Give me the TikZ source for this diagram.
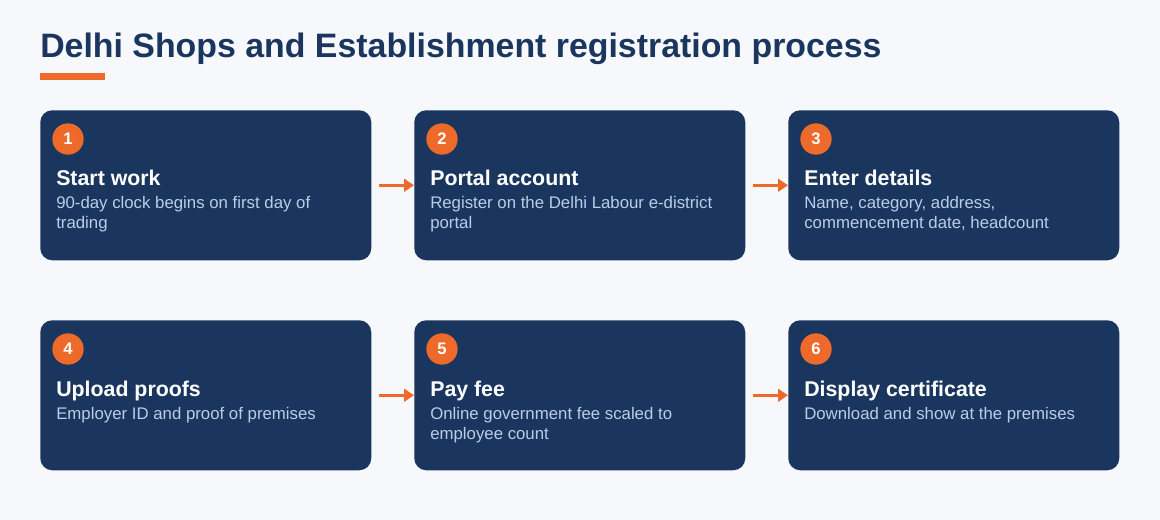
\documentclass[tikz,border=0pt]{standalone}
\usepackage{fontspec}
\setmainfont{Liberation Sans}
\usepackage{tikz}
\usetikzlibrary{calc,arrows.meta}
\definecolor{navy}{HTML}{1A365E}
\definecolor{accent}{HTML}{EE6A2A}
\definecolor{paper}{HTML}{F6F8FB}
\definecolor{bodyblue}{HTML}{BACDE8}
\newcommand{\bodylines}[1]{\begin{tabular}[t]{@{}l@{}}#1\end{tabular}}

\begin{document}
\begin{tikzpicture}[x=0.75pt,y=-0.75pt,
  stepbox/.style={fill=navy, rounded corners=9pt, minimum width=248.25pt,
    minimum height=112.5pt, inner sep=0pt, anchor=north west},
  badge/.style={circle, fill=accent, minimum size=23.5pt, inner sep=0pt,
    text=white, font=\fontsize{12.5}{12.5}\selectfont\bfseries},
  steptitle/.style={anchor=base west, inner sep=0pt, text=white,
    font=\fontsize{16}{18}\selectfont\bfseries},
  stepbody/.style={anchor=base west, inner sep=0pt, text=bodyblue,
    font=\fontsize{12.6}{15}\selectfont},
  flowarrow/.style={draw=accent, line width=2.6pt, shorten <=5.25pt,
    -{Triangle[length=7.5pt,width=9.5pt]}}]
\fill[paper] (0,0) rectangle (1160,520);
\useasboundingbox (0,0) rectangle (1160,520);
% title
\node[anchor=base west, inner sep=0pt, text=navy,
  font=\fontsize{25.4}{28}\selectfont\bfseries] (title) at (40,58)
  {Delhi Shops and Establishment registration process};
\fill[accent] (40,73) rectangle (105,80);
% boxes
\node[stepbox] (b1) at (40,110) {};
\node[stepbox] (b2) at (414,110) {};
\node[stepbox] (b3) at (788,110) {};
\node[stepbox] (b4) at (40,320) {};
\node[stepbox] (b5) at (414,320) {};
\node[stepbox] (b6) at (788,320) {};
% step 1
\node[badge] (n1) at ($(b1.north west)+(28,29)$) {1};
\node[steptitle] (t1) at ($(b1.north west)+(16,76)$) {Start work};
\node[stepbody] (d1) at ($(b1.north west)+(16,99)$) {\bodylines{90-day clock begins on first day of\\trading}};
% step 2
\node[badge] (n2) at ($(b2.north west)+(28,29)$) {2};
\node[steptitle] (t2) at ($(b2.north west)+(16,76)$) {Portal account};
\node[stepbody] (d2) at ($(b2.north west)+(16,99)$) {\bodylines{Register on the Delhi Labour e-district\\portal}};
% step 3
\node[badge] (n3) at ($(b3.north west)+(28,29)$) {3};
\node[steptitle] (t3) at ($(b3.north west)+(16,76)$) {Enter details};
\node[stepbody] (d3) at ($(b3.north west)+(16,99)$) {\bodylines{Name, category, address,\\commencement date, headcount}};
% step 4
\node[badge] (n4) at ($(b4.north west)+(28,29)$) {4};
\node[steptitle] (t4) at ($(b4.north west)+(16,76)$) {Upload proofs};
\node[stepbody] (d4) at ($(b4.north west)+(16,99)$) {Employer ID and proof of premises};
% step 5
\node[badge] (n5) at ($(b5.north west)+(28,29)$) {5};
\node[steptitle] (t5) at ($(b5.north west)+(16,76)$) {Pay fee};
\node[stepbody] (d5) at ($(b5.north west)+(16,99)$) {\bodylines{Online government fee scaled to\\employee count}};
% step 6
\node[badge] (n6) at ($(b6.north west)+(28,29)$) {6};
\node[steptitle] (t6) at ($(b6.north west)+(16,76)$) {Display certificate};
\node[stepbody] (d6) at ($(b6.north west)+(16,99)$) {Download and show at the premises};
% arrows
\draw[flowarrow] (b1.east) -- (b2.west);
\draw[flowarrow] (b2.east) -- (b3.west);
\draw[flowarrow] (b4.east) -- (b5.west);
\draw[flowarrow] (b5.east) -- (b6.west);
\end{tikzpicture}
\end{document}
